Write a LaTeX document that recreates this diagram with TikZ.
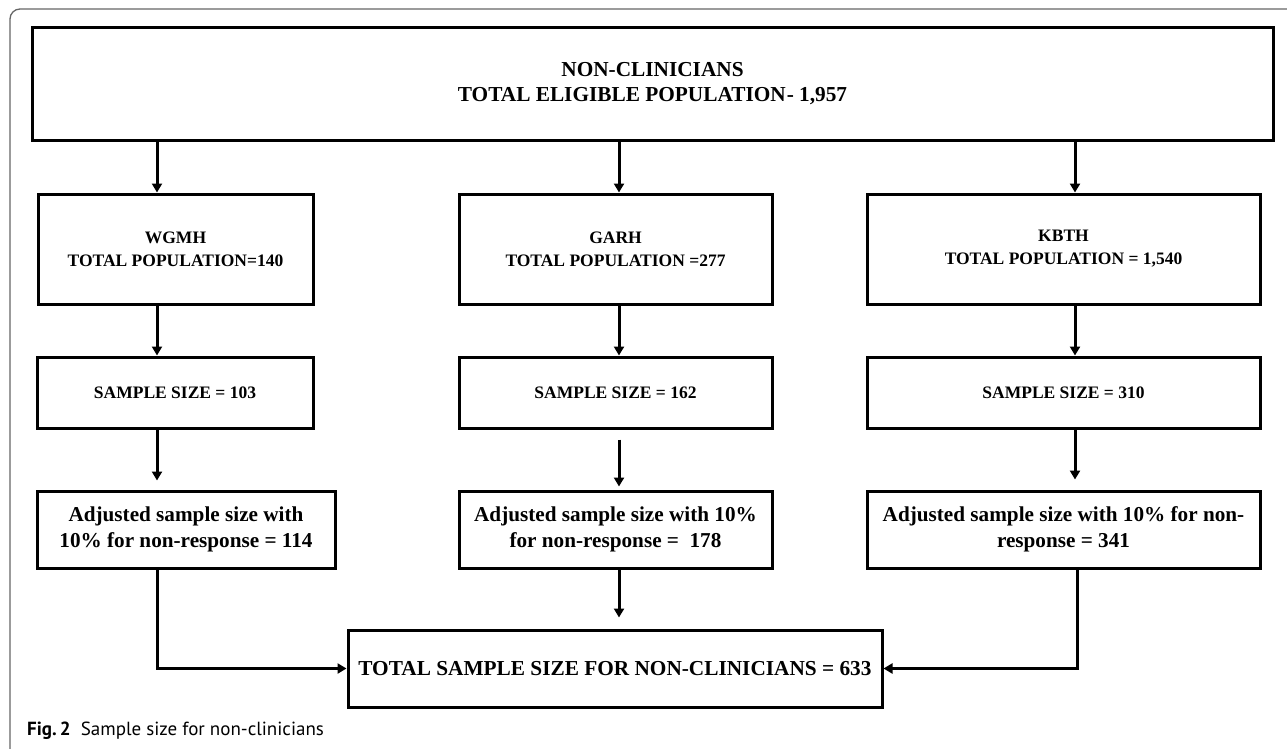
\documentclass[tikz,border=0pt]{standalone}
\usepackage{fontspec}
\setmainfont{Liberation Serif}
\newfontfamily\capfont{PT Sans}
\usetikzlibrary{arrows.meta}
\begin{document}
\begin{tikzpicture}[x=1pt,y=-1pt,
  box/.style={draw=black,line width=3pt,fill=white,align=center,inner sep=2pt,
    font=\fontsize{17.5}{23}\selectfont\bfseries},
  bigbox/.style={box,font=\fontsize{21.3}{25}\selectfont\bfseries},
  adjbox/.style={box,font=\fontsize{21.2}{25.5}\selectfont\bfseries},
  arr/.style={line width=3pt,-{Triangle[length=9pt,width=10pt]}}]
\useasboundingbox (0,0) rectangle (1287,748);
\fill[white] (0,0) rectangle (1287,748);
% outer frame
\draw[line width=1.3pt,draw=black!60] (10,750) -- (10,19) arc[start angle=180,end angle=270,radius=10] -- (1290,9);
% coordinates for arrow columns
\coordinate (xw) at (157,0);
\coordinate (xg) at (619,0);
\coordinate (xk) at (1075,0);
% boxes
\node[bigbox,minimum width=1241pt,minimum height=113pt] (top) at (652.5,83.5)
  {NON-CLINICIANS\\TOTAL ELIGIBLE POPULATION{\kern1pt}- 1,957};
\node[box,minimum width=275pt,minimum height=110pt] (w1) at (175.5,249) {WGMH\\TOTAL POPULATION=140};
\node[box,minimum width=313pt,minimum height=110pt] (g1) at (615.5,249) {GARH\\TOTAL POPULATION =277};
\node[box,minimum width=393pt,minimum height=110pt] (k1) at (1063.5,249) {KBTH\\TOTAL POPULATION = 1,540};
\node[box,minimum width=276pt,minimum height=71pt] (w2) at (175,392.5) {SAMPLE SIZE = 103};
\node[box,minimum width=313pt,minimum height=71pt] (g2) at (615.5,392.5) {SAMPLE SIZE = 162};
\node[box,minimum width=393pt,minimum height=71pt] (k2) at (1063.5,392.5) {SAMPLE SIZE = 310};
\node[adjbox,minimum width=298pt,minimum height=77pt] (w3) at (186,529.5) {Adjusted sample size with\\10\% for non-response = 114};
\node[adjbox,minimum width=313pt,minimum height=77pt] (g3) at (615.5,529.5) {Adjusted sample size with 10\%\\for non-response =\ \ 178};
\node[adjbox,minimum width=393pt,minimum height=77pt] (k3) at (1063.5,529.5) {Adjusted sample size with 10\% for non-\\response = 341};
\node[bigbox,minimum width=534pt,minimum height=77pt] (tot) at (615,668.5) {TOTAL SAMPLE SIZE FOR NON-CLINICIANS = 633};
% connectors
\draw[arr] (top.south -| xw) -- (w1.north -| xw);
\draw[arr] (top.south -| xg) -- (g1.north -| xg);
\draw[arr] (top.south -| xk) -- (k1.north -| xk);
\draw[arr] (w1.south -| xw) -- (w2.north -| xw);
\draw[arr] (g1.south -| xg) -- (g2.north -| xg);
\draw[arr] (k1.south -| xk) -- (k2.north -| xk);
\draw[arr,shorten >=9pt] (w2.south -| xw) -- (w3.north -| xw);
\draw[arr,shorten >=3pt,shorten <=10pt] (g2.south -| xg) -- (g3.north -| xg);
\draw[arr,shorten >=10pt] (k2.south -| xk) -- (k3.north -| xk);
\draw[arr,shorten >=11pt] (g3.south -| xg) -- (tot.north -| xg);
\draw[arr] (w3.south -| xw) |- (tot.west);
\draw[arr] (k3.south -| xk) ++(2,0) |- (tot.east);
% caption
\node[anchor=base west,inner sep=0pt,font=\capfont\fontsize{19}{23}\selectfont] (cap) at (27,735)
  {\textbf{Fig.\,2}\ \ Sample size for non-clinicians};
\end{tikzpicture}
\end{document}
